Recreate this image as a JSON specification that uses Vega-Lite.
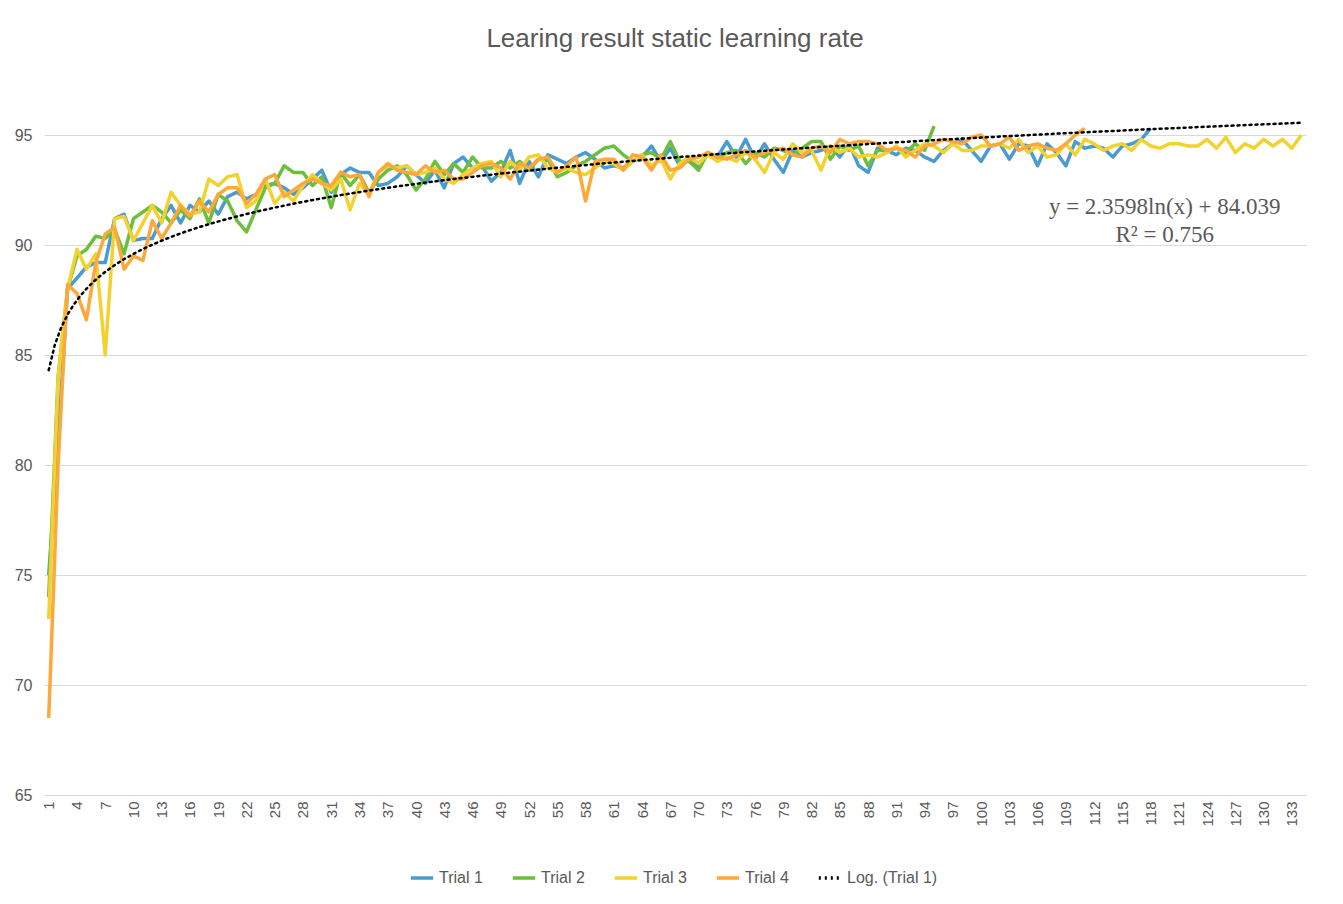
{
  "$schema": "https://vega.github.io/schema/vega-lite/v6.json",
  "width": 1262,
  "height": 715,
  "padding": {"left": 14, "top": 26, "right": 20, "bottom": 10},
  "background": "white",
  "config": {"font": "Liberation Sans", "view": {"stroke": null}, "legend": {"layout": {"bottom": {"anchor": "middle"}}}},
  "title": {"text": "Learing result static learning rate", "fontSize": 26, "fontWeight": "normal", "color": "#595959", "offset": 28},
  "data": {"values": [
    {"x":1,"Trial 1":75,"Trial 2":74,"Trial 3":73,"Trial 4":68.5},
    {"x":2,"Trial 1":81,"Trial 2":84,"Trial 3":84,"Trial 4":80},
    {"x":3,"Trial 1":88,"Trial 2":88,"Trial 3":88,"Trial 4":88.2},
    {"x":4,"Trial 1":88.5,"Trial 2":89.5,"Trial 3":89.8,"Trial 4":87.8},
    {"x":5,"Trial 1":89,"Trial 2":89.8,"Trial 3":88.9,"Trial 4":86.6},
    {"x":6,"Trial 1":89.2,"Trial 2":90.4,"Trial 3":89.6,"Trial 4":89.2},
    {"x":7,"Trial 1":89.2,"Trial 2":90.3,"Trial 3":85,"Trial 4":90.5},
    {"x":8,"Trial 1":91.2,"Trial 2":90.7,"Trial 3":91.2,"Trial 4":90.8},
    {"x":9,"Trial 1":91.4,"Trial 2":89.6,"Trial 3":91.3,"Trial 4":88.9},
    {"x":10,"Trial 1":90.2,"Trial 2":91.2,"Trial 3":90.2,"Trial 4":89.5},
    {"x":11,"Trial 1":90.3,"Trial 2":91.5,"Trial 3":91,"Trial 4":89.3},
    {"x":12,"Trial 1":90.3,"Trial 2":91.8,"Trial 3":91.8,"Trial 4":91.1},
    {"x":13,"Trial 1":91.2,"Trial 2":91.5,"Trial 3":91,"Trial 4":90.3},
    {"x":14,"Trial 1":91.8,"Trial 2":91,"Trial 3":92.4,"Trial 4":91},
    {"x":15,"Trial 1":91,"Trial 2":91.6,"Trial 3":91.8,"Trial 4":91.8},
    {"x":16,"Trial 1":91.8,"Trial 2":91.2,"Trial 3":91.4,"Trial 4":91.3},
    {"x":17,"Trial 1":91.5,"Trial 2":92.1,"Trial 3":91.5,"Trial 4":92},
    {"x":18,"Trial 1":92,"Trial 2":91,"Trial 3":93,"Trial 4":91.5},
    {"x":19,"Trial 1":91.4,"Trial 2":92.3,"Trial 3":92.7,"Trial 4":92.3},
    {"x":20,"Trial 1":92.2,"Trial 2":92,"Trial 3":93.1,"Trial 4":92.6},
    {"x":21,"Trial 1":92.4,"Trial 2":91.1,"Trial 3":93.2,"Trial 4":92.6},
    {"x":22,"Trial 1":92.1,"Trial 2":90.6,"Trial 3":91.7,"Trial 4":91.9},
    {"x":23,"Trial 1":92.3,"Trial 2":91.6,"Trial 3":92,"Trial 4":92.3},
    {"x":24,"Trial 1":92.7,"Trial 2":92.6,"Trial 3":93,"Trial 4":93},
    {"x":25,"Trial 1":92.8,"Trial 2":92.8,"Trial 3":91.9,"Trial 4":93.2},
    {"x":26,"Trial 1":92.6,"Trial 2":93.6,"Trial 3":92.4,"Trial 4":92.2},
    {"x":27,"Trial 1":92.3,"Trial 2":93.3,"Trial 3":92,"Trial 4":92.5},
    {"x":28,"Trial 1":92.6,"Trial 2":93.3,"Trial 3":92.7,"Trial 4":92.8},
    {"x":29,"Trial 1":93,"Trial 2":92.7,"Trial 3":93.2,"Trial 4":93},
    {"x":30,"Trial 1":93.4,"Trial 2":93.1,"Trial 3":92.8,"Trial 4":92.8},
    {"x":31,"Trial 1":92.4,"Trial 2":91.7,"Trial 3":92.5,"Trial 4":92.7},
    {"x":32,"Trial 1":93.2,"Trial 2":93.3,"Trial 3":93,"Trial 4":93.3},
    {"x":33,"Trial 1":93.5,"Trial 2":92.7,"Trial 3":91.6,"Trial 4":93.1},
    {"x":34,"Trial 1":93.3,"Trial 2":93.2,"Trial 3":92.8,"Trial 4":93.2},
    {"x":35,"Trial 1":93.3,"Trial 2":92.4,"Trial 3":92.3,"Trial 4":92.2},
    {"x":36,"Trial 1":92.7,"Trial 2":93,"Trial 3":93.3,"Trial 4":93.3},
    {"x":37,"Trial 1":92.8,"Trial 2":93.4,"Trial 3":93.6,"Trial 4":93.7},
    {"x":38,"Trial 1":93.1,"Trial 2":93.6,"Trial 3":93.5,"Trial 4":93.4},
    {"x":39,"Trial 1":93.6,"Trial 2":93.2,"Trial 3":93.6,"Trial 4":93.3},
    {"x":40,"Trial 1":93.2,"Trial 2":92.5,"Trial 3":93.2,"Trial 4":93.2},
    {"x":41,"Trial 1":92.8,"Trial 2":93,"Trial 3":93.3,"Trial 4":93.6},
    {"x":42,"Trial 1":93.4,"Trial 2":93.8,"Trial 3":93.5,"Trial 4":93.3},
    {"x":43,"Trial 1":92.6,"Trial 2":93.2,"Trial 3":93,"Trial 4":93.4},
    {"x":44,"Trial 1":93.7,"Trial 2":93.7,"Trial 3":92.8,"Trial 4":93},
    {"x":45,"Trial 1":94,"Trial 2":93.3,"Trial 3":93.2,"Trial 4":93},
    {"x":46,"Trial 1":93.5,"Trial 2":94,"Trial 3":93.5,"Trial 4":93.3},
    {"x":47,"Trial 1":93.6,"Trial 2":93.5,"Trial 3":93.7,"Trial 4":93.6},
    {"x":48,"Trial 1":92.9,"Trial 2":93.5,"Trial 3":93.8,"Trial 4":93.7},
    {"x":49,"Trial 1":93.3,"Trial 2":93.8,"Trial 3":93.1,"Trial 4":93.5},
    {"x":50,"Trial 1":94.3,"Trial 2":93.5,"Trial 3":93.8,"Trial 4":93},
    {"x":51,"Trial 1":92.8,"Trial 2":93.8,"Trial 3":93.4,"Trial 4":93.7},
    {"x":52,"Trial 1":93.8,"Trial 2":93.4,"Trial 3":94,"Trial 4":93.5},
    {"x":53,"Trial 1":93.1,"Trial 2":93.9,"Trial 3":94.1,"Trial 4":93.9},
    {"x":54,"Trial 1":94.1,"Trial 2":93.9,"Trial 3":93.5,"Trial 4":94},
    {"x":55,"Trial 1":93.9,"Trial 2":93.1,"Trial 3":93.3,"Trial 4":93.3},
    {"x":56,"Trial 1":93.7,"Trial 2":93.3,"Trial 3":93.5,"Trial 4":93.6},
    {"x":57,"Trial 1":94,"Trial 2":93.6,"Trial 3":93.3,"Trial 4":94},
    {"x":58,"Trial 1":94.2,"Trial 2":93.8,"Trial 3":93.2,"Trial 4":92},
    {"x":59,"Trial 1":93.9,"Trial 2":94.1,"Trial 3":93.5,"Trial 4":93.8},
    {"x":60,"Trial 1":93.5,"Trial 2":94.4,"Trial 3":93.8,"Trial 4":93.9},
    {"x":61,"Trial 1":93.6,"Trial 2":94.5,"Trial 3":93.7,"Trial 4":93.9},
    {"x":62,"Trial 1":93.5,"Trial 2":94.1,"Trial 3":93.4,"Trial 4":93.4},
    {"x":63,"Trial 1":93.8,"Trial 2":93.8,"Trial 3":93.8,"Trial 4":94.1},
    {"x":64,"Trial 1":94,"Trial 2":94.1,"Trial 3":94.1,"Trial 4":94},
    {"x":65,"Trial 1":94.5,"Trial 2":94.2,"Trial 3":93.6,"Trial 4":93.4},
    {"x":66,"Trial 1":93.8,"Trial 2":93.9,"Trial 3":93.9,"Trial 4":94.1},
    {"x":67,"Trial 1":94.4,"Trial 2":94.7,"Trial 3":93,"Trial 4":93.4},
    {"x":68,"Trial 1":93.6,"Trial 2":93.8,"Trial 3":93.7,"Trial 4":93.5},
    {"x":69,"Trial 1":93.9,"Trial 2":93.8,"Trial 3":94,"Trial 4":93.9},
    {"x":70,"Trial 1":93.5,"Trial 2":93.4,"Trial 3":93.7,"Trial 4":94},
    {"x":71,"Trial 1":94.2,"Trial 2":94.2,"Trial 3":94.1,"Trial 4":94.2},
    {"x":72,"Trial 1":94,"Trial 2":93.9,"Trial 3":93.8,"Trial 4":94},
    {"x":73,"Trial 1":94.7,"Trial 2":94.2,"Trial 3":94,"Trial 4":93.9},
    {"x":74,"Trial 1":94,"Trial 2":94.3,"Trial 3":93.8,"Trial 4":94.1},
    {"x":75,"Trial 1":94.8,"Trial 2":93.7,"Trial 3":94.2,"Trial 4":94.3},
    {"x":76,"Trial 1":93.9,"Trial 2":94.2,"Trial 3":93.9,"Trial 4":94},
    {"x":77,"Trial 1":94.6,"Trial 2":94,"Trial 3":93.3,"Trial 4":94.2},
    {"x":78,"Trial 1":93.9,"Trial 2":94.4,"Trial 3":94.2,"Trial 4":94.3},
    {"x":79,"Trial 1":93.3,"Trial 2":94.3,"Trial 3":93.9,"Trial 4":94.4},
    {"x":80,"Trial 1":94.3,"Trial 2":94.1,"Trial 3":94.6,"Trial 4":94.1},
    {"x":81,"Trial 1":94,"Trial 2":94.4,"Trial 3":94.2,"Trial 4":94},
    {"x":82,"Trial 1":94.2,"Trial 2":94.7,"Trial 3":94.3,"Trial 4":94.4},
    {"x":83,"Trial 1":94.3,"Trial 2":94.7,"Trial 3":93.4,"Trial 4":94.5},
    {"x":84,"Trial 1":94.5,"Trial 2":93.9,"Trial 3":94.5,"Trial 4":94.2},
    {"x":85,"Trial 1":94,"Trial 2":94.5,"Trial 3":94.2,"Trial 4":94.8},
    {"x":86,"Trial 1":94.6,"Trial 2":94.3,"Trial 3":94.4,"Trial 4":94.6},
    {"x":87,"Trial 1":93.6,"Trial 2":94.5,"Trial 3":94,"Trial 4":94.7},
    {"x":88,"Trial 1":93.3,"Trial 2":93.6,"Trial 3":94.1,"Trial 4":94.7},
    {"x":89,"Trial 1":94.4,"Trial 2":94.3,"Trial 3":94,"Trial 4":94.6},
    {"x":90,"Trial 1":94.3,"Trial 2":94.3,"Trial 3":94.2,"Trial 4":94.3},
    {"x":91,"Trial 1":94.1,"Trial 2":94.4,"Trial 3":94.5,"Trial 4":94.4},
    {"x":92,"Trial 1":94.4,"Trial 2":94.2,"Trial 3":94,"Trial 4":94.3},
    {"x":93,"Trial 1":94.3,"Trial 2":94.6,"Trial 3":94.3,"Trial 4":94},
    {"x":94,"Trial 1":94,"Trial 2":94.3,"Trial 3":94.6,"Trial 4":94.5},
    {"x":95,"Trial 1":93.8,"Trial 2":95.4,"Trial 3":94.5,"Trial 4":94.6},
    {"x":96,"Trial 1":94.3,"Trial 3":94.2,"Trial 4":94.8},
    {"x":97,"Trial 1":94.6,"Trial 3":94.6,"Trial 4":94.7},
    {"x":98,"Trial 1":94.8,"Trial 3":94.3,"Trial 4":94.6},
    {"x":99,"Trial 1":94.3,"Trial 3":94.3,"Trial 4":94.9},
    {"x":100,"Trial 1":93.8,"Trial 3":94.5,"Trial 4":95},
    {"x":101,"Trial 1":94.5,"Trial 3":94.5,"Trial 4":94.5},
    {"x":102,"Trial 1":94.6,"Trial 3":94.6,"Trial 4":94.6},
    {"x":103,"Trial 1":93.9,"Trial 3":94.4,"Trial 4":94.9},
    {"x":104,"Trial 1":94.6,"Trial 3":94.8,"Trial 4":94.3},
    {"x":105,"Trial 1":94.5,"Trial 3":94.2,"Trial 4":94.5},
    {"x":106,"Trial 1":93.6,"Trial 3":94.5,"Trial 4":94.6},
    {"x":107,"Trial 1":94.6,"Trial 3":94,"Trial 4":94.4},
    {"x":108,"Trial 1":94.2,"Trial 3":94.1,"Trial 4":94.3},
    {"x":109,"Trial 1":93.6,"Trial 3":94.6,"Trial 4":94.6},
    {"x":110,"Trial 1":94.7,"Trial 3":94.1,"Trial 4":95},
    {"x":111,"Trial 1":94.4,"Trial 3":94.8,"Trial 4":95.3},
    {"x":112,"Trial 1":94.5,"Trial 3":94.6},
    {"x":113,"Trial 1":94.4,"Trial 3":94.3},
    {"x":114,"Trial 1":94,"Trial 3":94.5},
    {"x":115,"Trial 1":94.5,"Trial 3":94.6},
    {"x":116,"Trial 1":94.6,"Trial 3":94.3},
    {"x":117,"Trial 1":94.8,"Trial 3":94.8},
    {"x":118,"Trial 1":95.3,"Trial 3":94.5},
    {"x":119,"Trial 3":94.4},
    {"x":120,"Trial 3":94.6},
    {"x":121,"Trial 3":94.6},
    {"x":122,"Trial 3":94.5},
    {"x":123,"Trial 3":94.5},
    {"x":124,"Trial 3":94.8},
    {"x":125,"Trial 3":94.4},
    {"x":126,"Trial 3":94.9},
    {"x":127,"Trial 3":94.2},
    {"x":128,"Trial 3":94.6},
    {"x":129,"Trial 3":94.4},
    {"x":130,"Trial 3":94.8},
    {"x":131,"Trial 3":94.5},
    {"x":132,"Trial 3":94.8},
    {"x":133,"Trial 3":94.4},
    {"x":134,"Trial 3":95.0}
  ]},
  "transform": [
    {"fold": ["Trial 1", "Trial 2", "Trial 3", "Trial 4"], "as": ["s", "v"]},
    {"filter": "isValid(datum.v)"}
  ],
  "encoding": {
    "x": {"field": "x", "type": "quantitative",
      "scale": {"domain": [0.5, 134.5], "nice": false, "zero": false},
      "axis": {"title": null, "grid": false, "values": [1,4,7,10,13,16,19,22,25,28,31,34,37,40,43,46,49,52,55,58,61,64,67,70,73,76,79,82,85,88,91,94,97,100,103,106,109,112,115,118,121,124,127,130,133],
        "labelAngle": -90, "labelAlign": "right", "labelBaseline": "middle", "labelFontSize": 15, "labelColor": "#595959", "domainColor": "#d9d9d9", "ticks": false, "labelPadding": 6}},
    "y": {"field": "v", "type": "quantitative",
      "scale": {"domain": [65, 97.5], "nice": false, "zero": false},
      "axis": {"title": null, "values": [65,70,75,80,85,90,95], "gridColor": "#d9d9d9", "domain": false, "ticks": false, "labelFontSize": 16, "labelColor": "#595959", "labelPadding": 12}}
  },
  "layer": [
    {
      "mark": {"type": "line", "strokeWidth": 3.5, "strokeJoin": "round"},
      "encoding": {
        "color": {"field": "s", "type": "nominal",
          "scale": {"domain": ["Trial 1", "Trial 2", "Trial 3", "Trial 4", "Log.  (Trial 1)"], "range": ["#4a9bd0", "#6cbf3a", "#f2d22e", "#fca83a", "#000000"]},
          "legend": {"orient": "bottom", "direction": "horizontal", "title": null, "symbolType": "stroke", "symbolStrokeWidth": 3.5, "symbolSize": 500, "labelFontSize": 16, "labelColor": "#595959", "columnPadding": 22, "offset": 38}},
        "strokeDash": {"field": "s", "type": "nominal",
          "scale": {"domain": ["Trial 1", "Trial 2", "Trial 3", "Trial 4", "Log.  (Trial 1)"], "range": [[1,0],[1,0],[1,0],[1,0],[2,4]]},
          "legend": {"orient": "bottom", "direction": "horizontal", "title": null, "symbolType": "stroke", "symbolStrokeWidth": 3.5, "symbolSize": 500, "labelFontSize": 16, "labelColor": "#595959", "columnPadding": 22, "offset": 38}}
      }
    },
    {
      "transform": [
        {"filter": "datum.s == 'Trial 1'"},
        {"regression": "v", "on": "x", "method": "log", "extent": [1, 134]}
      ],
      "mark": {"type": "line", "strokeWidth": 2.5, "strokeCap": "round", "strokeDash": [1, 4], "color": "black"},
      "encoding": {
        "color": {"datum": "Log.  (Trial 1)"},
        "strokeDash": {"datum": "Log.  (Trial 1)"}
      }
    },
    {
      "data": {"values": [{"x": 119.5, "v": 91.75, "t": "y = 2.3598ln(x) + 84.039"}, {"x": 119.5, "v": 90.45, "t": "R² = 0.756"}]},
      "transform": [],
      "mark": {"type": "text", "font": "Liberation Serif", "fontSize": 23, "color": "#595959"},
      "encoding": {"text": {"field": "t"}}
    }
  ]
}
